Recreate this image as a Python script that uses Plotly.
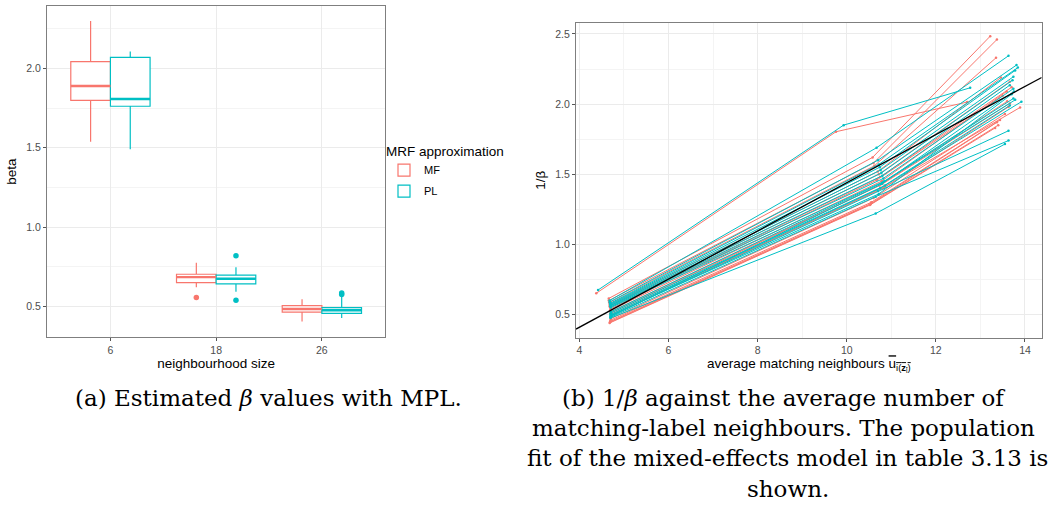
import plotly.graph_objects as go

# ---------------- Data: left panel (box-plot summaries of beta) ----------------
sizes = ["6", "18", "26"]
methods = ["MF", "PL"]

mf_lower = [1.538, 0.622, 0.406]
mf_q1 = [1.798, 0.651, 0.465]
mf_median = [1.889, 0.686, 0.485]
mf_q3 = [2.042, 0.704, 0.506]
mf_upper = [2.298, 0.777, 0.547]
mf_out_size = ["18"]
mf_out_val = [0.557]

pl_lower = [1.490, 0.594, 0.429]
pl_q1 = [1.761, 0.643, 0.458]
pl_median = [1.807, 0.676, 0.477]
pl_q3 = [2.069, 0.698, 0.494]
pl_upper = [2.105, 0.748, 0.562]
pl_out_size = ["18", "18", "26", "26"]
pl_out_val = [0.821, 0.540, 0.576, 0.586]

# ---------------- Data: right panel (per-image lines) ----------------
# average matching neighbours (u) and 1/beta at neighbourhood sizes 6, 18, 26
mf_u6 = [4.38, 4.66, 4.66, 4.67, 4.68, 4.68, 4.69, 4.69, 4.70, 4.70, 4.71, 4.70, 4.70, 4.69, 4.68, 4.69, 4.70, 4.70]
mf_b6 = [0.652, 0.615, 0.600, 0.585, 0.570, 0.560, 0.550, 0.530, 0.520, 0.500, 0.490, 0.470, 0.460, 0.450, 0.440, 0.445, 0.540, 0.510]
mf_u18 = [9.76, 10.58, 10.60, 10.62, 10.70, 10.72, 10.75, 10.78, 10.80, 10.82, 10.85, 10.60, 10.55, 10.54, 10.52, 10.53, 10.68, 10.74]
mf_b18 = [1.803, 1.620, 1.580, 1.560, 1.520, 1.500, 1.480, 1.450, 1.430, 1.400, 1.410, 1.330, 1.300, 1.290, 1.280, 1.285, 1.460, 1.420]
mf_u26 = [12.70, 13.22, 13.37, 13.35, 13.46, 13.66, 13.70, 13.59, 13.66, 13.63, 13.89, 13.55, 13.44, 13.37, 13.33, 13.40, 13.50, 13.60]
mf_b26 = [2.014, 2.484, 2.460, 2.330, 2.190, 2.160, 2.120, 2.090, 2.005, 1.980, 1.976, 1.930, 1.886, 1.870, 1.830, 1.850, 2.060, 2.020]

pl_u6 = [4.42, 4.68, 4.68, 4.69, 4.69, 4.70, 4.70, 4.70, 4.70, 4.71, 4.71, 4.70, 4.70, 4.70, 4.70, 4.70, 4.71, 4.70]
pl_b6 = [0.675, 0.600, 0.590, 0.580, 0.575, 0.570, 0.565, 0.560, 0.555, 0.550, 0.520, 0.510, 0.500, 0.490, 0.480, 0.475, 0.495, 0.485]
pl_u18 = [9.93, 10.67, 10.70, 10.72, 10.74, 10.76, 10.78, 10.80, 10.82, 10.84, 10.80, 10.86, 10.75, 10.70, 10.65, 10.65, 10.72, 10.78]
pl_b18 = [1.850, 1.689, 1.600, 1.570, 1.550, 1.530, 1.510, 1.490, 1.470, 1.450, 1.440, 1.420, 1.400, 1.380, 1.340, 1.220, 1.360, 1.430]
pl_u26 = [12.77, 13.63, 13.81, 13.84, 13.78, 13.74, 13.72, 13.66, 13.74, 13.74, 13.78, 13.92, 13.66, 13.63, 13.63, 13.55, 13.70, 13.75]
pl_b26 = [2.116, 2.344, 2.278, 2.260, 2.240, 2.195, 2.170, 2.135, 2.110, 2.040, 2.030, 2.017, 1.990, 1.810, 1.740, 1.715, 2.070, 2.090]

# population fit of the mixed-effects model
fit_intercept = -0.277
fit_slope = 0.1716

x_ticks_right = [4, 6, 8, 10, 12, 14]
y_ticks_right = [0.5, 1.0, 1.5, 2.0, 2.5]
y_ticks_left = [0.5, 1.0, 1.5, 2.0]

# ---------------- Styling ----------------
W, H = 1057, 509
COL = {"MF": "#F8766D", "PL": "#00BFC4"}
GRID = "#EBEBEB"
MINOR = "#F4F4F4"
BORDER = "#7F7F7F"
TICKC = "#4D4D4D"
SANS = "Liberation Sans, Arial, sans-serif"
SERIF = "DejaVu Serif, serif"
DODGE = 0.75
BOXW = DODGE / 2

left_xr = [0.4, 3.6]
left_yr = [0.309, 2.392]
right_xr = [3.925, 14.375]
right_yr = [0.335, 2.580]

fig = go.Figure()

stats = {
    "MF": dict(lower=mf_lower, q1=mf_q1, med=mf_median, q3=mf_q3, upper=mf_upper,
               osz=mf_out_size, oval=mf_out_val),
    "PL": dict(lower=pl_lower, q1=pl_q1, med=pl_median, q3=pl_q3, upper=pl_upper,
               osz=pl_out_size, oval=pl_out_val),
}

for k, m in enumerate(methods):
    s = stats[m]
    off = (k - 0.5) * BOXW
    xs = [i + 1 + off for i in range(len(sizes))]
    fig.add_trace(go.Box(
        x=xs, q1=s["q1"], median=s["med"], q3=s["q3"],
        lowerfence=s["lower"], upperfence=s["upper"],
        width=BOXW, whiskerwidth=0, boxpoints=False,
        fillcolor="white", line=dict(color=COL[m], width=1.2),
        name=m, legendgroup=m, showlegend=True,
        xaxis="x", yaxis="y", hoverinfo="skip",
    ))
    # thicker median line (ggplot fatten)
    mx, my = [], []
    for x, md in zip(xs, s["med"]):
        mx += [x - BOXW / 2, x + BOXW / 2, None]
        my += [md, md, None]
    fig.add_trace(go.Scatter(x=mx, y=my, mode="lines", line=dict(color=COL[m], width=2.4),
                             showlegend=False, xaxis="x", yaxis="y", hoverinfo="skip"))
    # outliers
    ox = [sizes.index(sz) + 1 + off for sz in s["osz"]]
    fig.add_trace(go.Scatter(x=ox, y=s["oval"], mode="markers",
                             marker=dict(color=COL[m], size=5.5),
                             showlegend=False, xaxis="x", yaxis="y", hoverinfo="skip"))

# right panel lines
lines = {
    "MF": (mf_u6, mf_b6, mf_u18, mf_b18, mf_u26, mf_b26),
    "PL": (pl_u6, pl_b6, pl_u18, pl_b18, pl_u26, pl_b26),
}
for m in methods:
    u6, b6, u18, b18, u26, b26 = lines[m]
    lx, ly = [], []
    for i in range(len(u6)):
        lx += [u6[i], u18[i], u26[i], None]
        ly += [b6[i], b18[i], b26[i], None]
    fig.add_trace(go.Scatter(x=lx, y=ly, mode="lines+markers",
                             line=dict(color=COL[m], width=1),
                             marker=dict(color=COL[m], size=2.5),
                             showlegend=False, xaxis="x2", yaxis="y2", hoverinfo="skip"))

fx = list(right_xr)
fy = [fit_intercept + fit_slope * v for v in fx]
fig.add_trace(go.Scatter(x=fx, y=fy, mode="lines", line=dict(color="black", width=1.3),
                         showlegend=False, xaxis="x2", yaxis="y2", hoverinfo="skip"))


def px_dom(a, b, total):
    return [a / total, b / total]


def py_dom(top, bottom):
    return [1 - bottom / H, 1 - top / H]


axis_common = dict(
    showgrid=True, gridcolor=GRID, gridwidth=1, zeroline=False,
    showline=True, mirror=True, linecolor=BORDER, linewidth=1,
    ticks="outside", ticklen=3, tickcolor="#555555", tickwidth=1,
    tickfont=dict(family=SANS, size=10.5, color=TICKC),
)

fig.update_layout(
    width=W, height=H, margin=dict(l=0, r=0, t=0, b=0),
    paper_bgcolor="white", plot_bgcolor="white",
    boxmode="overlay",
    xaxis=dict(domain=px_dom(47, 385.3, W), range=left_xr,
               tickmode="array", tickvals=[i + 1 for i in range(len(sizes))], ticktext=sizes,
               title=dict(text="neighbourhood size", font=dict(family=SANS, size=13.5, color="black"),
                          standoff=2),
               **axis_common),
    yaxis=dict(domain=py_dom(6, 337), range=left_yr,
               tickmode="array", tickvals=y_ticks_left, ticktext=[f"{v:.1f}" for v in y_ticks_left],
               minor=dict(dtick=0.25, tick0=0.25, showgrid=True, gridcolor=MINOR, ticks=""),
               title=dict(text="beta", font=dict(family=SANS, size=13.5, color="black"), standoff=6),
               **axis_common),
    xaxis2=dict(domain=px_dom(576, 1041.7, W), range=right_xr, anchor="y2",
                tickmode="array", tickvals=x_ticks_right, ticktext=[str(v) for v in x_ticks_right],
                minor=dict(dtick=1, tick0=1, showgrid=True, gridcolor=MINOR, ticks=""),
                title=dict(text='average matching neighbours <span style="text-decoration:overline">u<sub>i(<b>z</b><sub>i</sub>)</sub></span>',
                           font=dict(family=SANS, size=13.5, color="black"), standoff=2),
                **axis_common),
    yaxis2=dict(domain=py_dom(22.7, 337.7), range=right_yr, anchor="x2",
                tickmode="array", tickvals=y_ticks_right, ticktext=[f"{v:.1f}" for v in y_ticks_right],
                minor=dict(dtick=0.25, tick0=0.25, showgrid=True, gridcolor=MINOR, ticks=""),
                title=dict(text="1/β", font=dict(family=SANS, size=13.5, color="black"), standoff=6),
                **axis_common),
    legend=dict(x=384 / W, y=1 - 138 / H, xanchor="left", yanchor="top",
                title=dict(text="MRF approximation", font=dict(family=SANS, size=13.5, color="black")),
                font=dict(family=SANS, size=11, color="black"),
                bgcolor="rgba(0,0,0,0)", itemwidth=30, tracegroupgap=2),
)

captions = [
    ("(a) Estimated <i>β</i> values with MPL.", 268, 398),
    ("(b) 1/<i>β</i> against the average number of", 783, 398),
    ("matching-label neighbours. The population", 783, 428),
    ("fit of the mixed-effects model in table 3.13 is", 787, 458),
    ("shown.", 788, 489),
]
for txt, cx, cy in captions:
    fig.add_annotation(text=txt, x=cx / W, y=1 - cy / H, xref="paper", yref="paper",
                       xanchor="center", yanchor="middle", showarrow=False,
                       font=dict(family=SERIF, size=23, color="black"))

fig.write_html("out.html")
